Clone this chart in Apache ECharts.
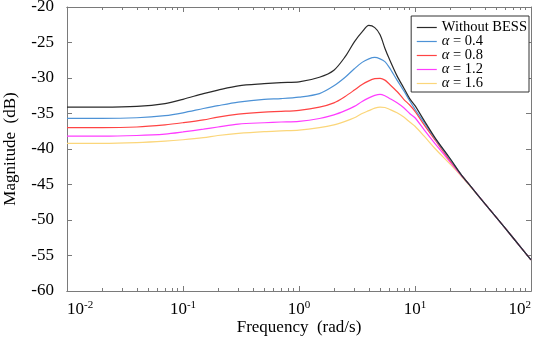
<!DOCTYPE html>
<html>
<head>
<meta charset="utf-8">
<script src="https://cdn.jsdelivr.net/npm/echarts@6/dist/echarts.min.js"></script>
<style>
  body { margin: 0; padding: 0; background: #fff; }
  #chart { width: 533px; height: 337px; }
</style>
</head>
<body>
<div id="chart"></div>
<script>
  // frequency points (rad/s)
  const freq = [0.01, 0.02, 0.04, 0.07, 0.1, 0.15, 0.2, 0.3, 0.5, 0.7, 1, 1.5, 2, 2.5, 3, 3.5,
                4, 4.5, 5, 5.5, 6, 7, 8, 9, 10, 12, 15, 20, 25, 30, 40, 50, 70, 100];

  // magnitude (dB)
  const withoutBess = [-34.1, -34.1, -34.0, -33.6, -33.0, -32.2, -31.7, -31.1, -30.8, -30.65, -30.55, -29.9, -28.9, -27.0, -24.9, -23.5,
                       -22.6, -22.9, -23.9, -25.8, -27.3, -29.7, -31.4, -32.9, -33.9, -36.0, -38.5, -41.3, -43.6, -45.2, -47.7, -49.6, -52.5, -55.6];
  const alpha04 = [-35.7, -35.7, -35.6, -35.3, -34.9, -34.3, -33.9, -33.4, -33.0, -32.9, -32.7, -32.2, -31.1, -29.9, -28.7, -27.8,
                   -27.3, -27.1, -27.3, -27.7, -28.5, -30.3, -31.8, -33.2, -34.4, -36.3, -38.6, -41.4, -43.6, -45.2, -47.7, -49.6, -52.5, -55.6];
  const alpha08 = [-37.0, -37.0, -36.9, -36.6, -36.3, -35.9, -35.5, -35.1, -34.8, -34.7, -34.55, -34.1, -33.5, -32.6, -31.7, -30.9,
                   -30.4, -30.1, -30.05, -30.3, -30.85, -31.9, -33.0, -33.8, -34.7, -36.6, -38.8, -41.6, -43.6, -45.2, -47.7, -49.6, -52.5, -55.6];
  const alpha12 = [-38.2, -38.2, -38.1, -37.9, -37.6, -37.2, -36.9, -36.5, -36.3, -36.2, -36.1, -35.7, -35.2, -34.6, -34.0, -33.3,
                   -32.8, -32.45, -32.3, -32.5, -32.85, -33.5, -34.2, -35.0, -35.6, -37.3, -39.3, -41.8, -43.7, -45.2, -47.7, -49.6, -52.5, -55.6];
  const alpha16 = [-39.2, -39.2, -39.1, -38.9, -38.7, -38.4, -38.1, -37.8, -37.55, -37.45, -37.35, -37.0, -36.6, -36.1, -35.6, -35.0,
                   -34.6, -34.25, -34.1, -34.15, -34.4, -34.9, -35.5, -36.2, -36.8, -38.2, -40.0, -42.1, -43.8, -45.3, -47.7, -49.6, -52.5, -55.6];

  const seriesNames = ['Without BESS', 'α = 0.4', 'α = 0.8', 'α = 1.2', 'α = 1.6'];
  const seriesValues = [withoutBess, alpha04, alpha08, alpha12, alpha16];
  const colors = ['#2a2a2a', '#4d92d6', '#ff4444', '#ff3cff', '#fbd67a'];

  const xMajorTicks = [0.01, 0.1, 1, 10, 100];
  // minor ticks: 2..9 of each decade
  const xMinorTicks = [];
  for (let d = 0.01; d < 100; d *= 10) {
    for (let k = 2; k <= 9; k++) xMinorTicks.push(+(d * k).toPrecision(3));
  }

  const font = 'Liberation Serif';
  const axisColor = '#7a7a7a';

  let myChart = echarts.init(document.getElementById('chart'));

  function xAxisDef(pos, ticks, len, withLabel) {
    return {
      type: 'log',
      logBase: 10,
      min: 0.01,
      max: 100,
      position: pos,
      gridIndex: 0,
      axisLine: { show: true, onZero: false, lineStyle: { color: axisColor, width: 1 } },
      axisTick: { show: true, inside: true, length: len, customValues: ticks,
                  lineStyle: { color: axisColor } },
      splitLine: { show: false },
      minorTick: { show: false },
      axisLabel: withLabel ? {
        show: true,
        margin: 9,
        customValues: xMajorTicks,
        alignMinLabel: 'left',
        alignMaxLabel: 'right',
        formatter: function (v) {
          return '{b|10}{s|' + Math.round(Math.log10(v)) + '}';
        },
        rich: {
          b: { fontFamily: font, fontSize: 17, color: '#000' },
          s: { fontFamily: font, fontSize: 11, color: '#000', padding: [0, 0, 9, 0] }
        }
      } : { show: false },
      name: withLabel ? 'Frequency  (rad/s)' : '',
      nameLocation: 'middle',
      nameGap: 28,
      nameMoveOverlap: false,
      nameTextStyle: { fontFamily: font, fontSize: 17, color: '#000', verticalAlign: 'top' }
    };
  }

  function yAxisDef(pos, withLabel) {
    return {
      type: 'value',
      min: -60,
      max: -20,
      interval: 5,
      position: pos,
      axisLine: { show: true, onZero: false, lineStyle: { color: axisColor, width: 1 } },
      axisTick: { show: true, inside: true, length: 5, lineStyle: { color: axisColor } },
      splitLine: { show: false },
      axisLabel: withLabel ? {
        show: true, margin: 13, fontFamily: font, fontSize: 17, color: '#000'
      } : { show: false },
      name: withLabel ? 'Magnitude  (dB)' : '',
      nameLocation: 'middle',
      nameGap: 48,
      nameMoveOverlap: false,
      nameTextStyle: { fontFamily: font, fontSize: 17, color: '#000' }
    };
  }

  let option = {
    animation: false,
    backgroundColor: '#fff',
    color: colors,
    grid: { left: 67, right: 2, top: 7, bottom: 46, outerBoundsMode: 'none' },
    legend: {
      data: seriesNames,
      orient: 'vertical',
      right: 4,
      top: 16,
      padding: [4, 2, 1, 5],
      itemGap: -1,
      itemWidth: 20,
      itemHeight: 11,
      itemStyle: { opacity: 0 },
      lineStyle: { width: 1.2 },
      borderColor: '#333',
      borderWidth: 1,
      backgroundColor: '#fff',
      textStyle: { fontFamily: font, fontSize: 14.5, color: '#000', lineHeight: 13,
                   rich: { i: { fontFamily: font, fontSize: 14.5, fontStyle: 'italic', color: '#000', lineHeight: 13 } } },
      formatter: function (name) { return name.replace('α', '{i|α}'); }
    },
    xAxis: [
      xAxisDef('bottom', xMajorTicks, 5, true),
      xAxisDef('bottom', xMinorTicks, 3, false),
      xAxisDef('top', xMajorTicks, 5, false),
      xAxisDef('top', xMinorTicks, 3, false)
    ],
    yAxis: [
      yAxisDef('left', true),
      yAxisDef('right', false)
    ],
    series: seriesNames.map(function (name, i) {
      return {
        name: name,
        type: 'line',
        xAxisIndex: 0,
        yAxisIndex: 0,
        symbol: 'none',
        smooth: 0.3,
        z: 10 - i,
        lineStyle: { width: 1.2, color: colors[i] },
        data: freq.map(function (f, j) { return [f, seriesValues[i][j]]; })
      };
    })
  };
  myChart.setOption(option);
</script>
</body>
</html>
